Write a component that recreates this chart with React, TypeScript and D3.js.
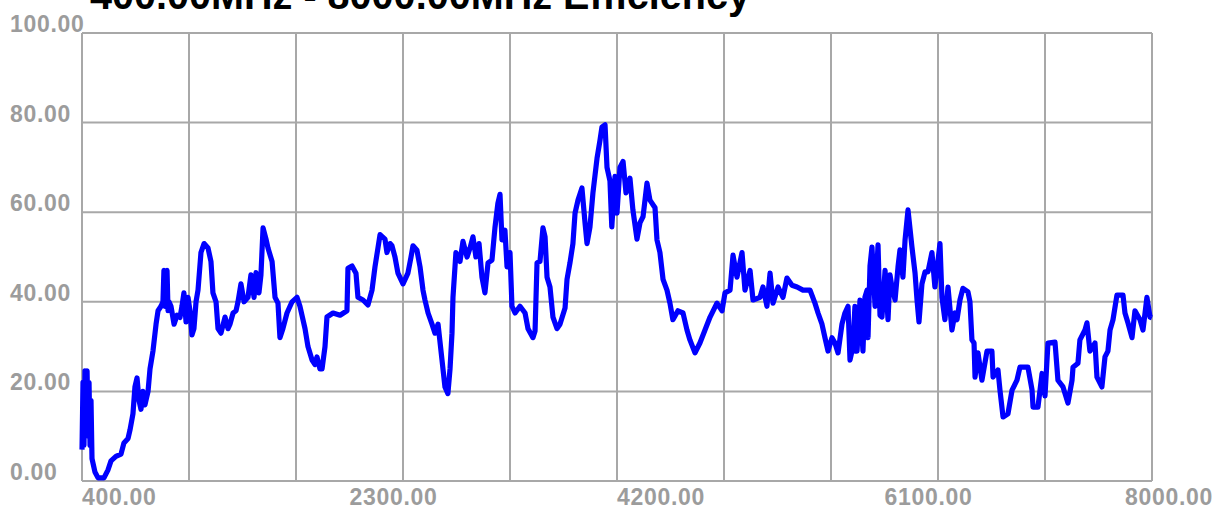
import React from "react";
import * as d3 from "d3";

const TITLE = "400.00MHz - 8000.00MHz Efficiency";

const freqs: number[] = [
  400, 407, 414, 421, 428, 436, 443, 450, 457, 464, 471, 492, 514, 556, 585, 606, 641, 677, 698, 727,
  741, 762, 776, 791, 805, 819, 833, 847, 869, 883, 904, 926, 940, 961, 975, 982, 989, 997, 1004, 1011, 1018, 1032,
  1054, 1075, 1096, 1110, 1124, 1139, 1153, 1167, 1181, 1195, 1210, 1224, 1245, 1267, 1295, 1316, 1330, 1352, 1366, 1387,
  1416, 1437, 1451, 1473, 1494, 1508, 1529, 1551, 1579, 1600, 1622, 1636, 1657, 1671, 1686, 1707, 1721, 1750, 1771, 1792,
  1806, 1827, 1856, 1892, 1927, 1948, 1984, 2005, 2034, 2055, 2069, 2090, 2105, 2126, 2140, 2183, 2233, 2282, 2289, 2318,
  2346, 2360, 2396, 2431, 2460, 2481, 2502, 2517, 2552, 2566, 2588, 2602, 2623, 2644, 2680, 2715, 2737, 2751, 2779, 2801,
  2822, 2836, 2858, 2886, 2907, 2929, 2957, 2978, 2999, 3014, 3028, 3035, 3056, 3085, 3106, 3135, 3156, 3177, 3198, 3220,
  3241, 3262, 3284, 3312, 3333, 3354, 3369, 3383, 3404, 3419, 3440, 3454, 3476, 3511, 3547, 3568, 3603, 3618, 3632, 3653,
  3674, 3689, 3703, 3724, 3745, 3774, 3795, 3831, 3845, 3866, 3887, 3902, 3923, 3951, 3973, 3987, 4008, 4029, 4058, 4079,
  4093, 4115, 4129, 4150, 4163, 4186, 4200, 4221, 4243, 4264, 4292, 4313, 4342, 4363, 4385, 4413, 4434, 4470, 4484, 4505,
  4527, 4555, 4576, 4597, 4633, 4669, 4697, 4718, 4754, 4789, 4825, 4861, 4910, 4946, 4967, 5003, 5024, 5052, 5088, 5109,
  5145, 5166, 5216, 5237, 5265, 5287, 5308, 5344, 5379, 5407, 5443, 5479, 5521, 5571, 5606, 5628, 5656, 5677, 5699, 5727,
  5748, 5770, 5798, 5819, 5841, 5855, 5876, 5890, 5897, 5905, 5926, 5947, 5961, 5976, 5983, 5997, 6011, 6033, 6054, 6068, 6082, 6104, 6125, 6139, 6153, 6175,
  6196, 6210, 6231, 6246, 6267, 6295, 6317, 6331, 6345, 6366, 6388, 6409, 6437, 6458, 6494, 6508, 6529, 6551, 6579, 6601,
  6615, 6636, 6657, 6693, 6707, 6721, 6736, 6743, 6764, 6792, 6828, 6863, 6871, 6906, 6920, 6942, 6977, 7006, 7041, 7062,
  7119, 7148, 7155, 7190, 7219, 7240, 7261, 7311, 7332, 7368, 7403, 7432, 7439, 7474, 7488, 7524, 7538, 7559, 7595, 7609,
  7644, 7666, 7687, 7702, 7723, 7751, 7794, 7808, 7829, 7858, 7879, 7915, 7936, 7964, 7986, 8000,
];

const efficiency: number[] = [
  7, 22, 8, 24.6, 10, 24.6, 12, 22, 8, 18, 5, 2, 0.7, 0.7, 2.5, 4.5, 5.5, 6, 8.5, 9.5,
  11.4, 15, 21, 23, 18, 16, 20, 17, 20, 25, 29, 35, 38, 39, 40, 47, 39, 40, 47, 38, 40, 39,
  35, 37, 36.5, 39, 42, 35.5, 41, 38, 32.6, 34, 40, 42.6, 51, 53, 52, 49, 42, 40, 34, 33,
  36.6, 34, 35, 37.5, 38, 40, 44, 40, 41, 46, 41, 46.5, 42, 46, 56.5, 54, 52, 49, 41, 39.7,
  32, 34, 37.5, 40, 41, 39, 34, 30, 27, 26, 27.7, 25, 25, 30, 36.6, 37.5, 37, 38, 47.5, 48,
  46.4, 41, 40.4, 39.3, 42.6, 47.8, 52, 55, 54, 51, 53, 52.5, 50, 46.4, 44, 46.4, 50, 52.5, 51.5, 47.8,
  42.6, 40.4, 37.5, 35, 33, 35, 27, 21, 19.5, 25, 33, 41, 51, 49, 53.5, 50, 52, 54.5, 50, 53,
  45.5, 42, 48.7, 49.3, 56.5, 62, 64, 53.8, 56, 47.8, 51, 39, 37.5, 39, 37.5, 34, 32, 33.5, 48.7, 49,
  56.5, 54.5, 45.5, 43.3, 36.6, 34, 35, 38.6, 45, 48.7, 53, 59.8, 62.7, 65.4, 57.6, 53, 56.7, 64.3, 72, 76,
  79, 79.5, 70, 67, 56.7, 68, 59.8, 70, 71.3, 64.3, 67.6, 60.5, 54, 57.6, 59, 66.5, 62.7, 61, 53.8, 51,
  45, 42.6, 39.7, 36, 38, 37.5, 33.7, 31.5, 28.6, 30.8, 33.7, 36.6, 39.7, 38, 42, 42.6, 50.4, 45.5, 51, 42.6,
  47, 40.4, 41, 43.3, 39, 46.4, 39.7, 43.3, 41, 45.3, 43.7, 43.3, 42.6, 42.6, 39.7, 37.5, 35, 32, 29, 32,
  30.8, 28.6, 35, 37.5, 39, 27, 30, 39, 29, 29, 40.4, 29, 41, 42.6, 32, 48, 52.2, 39, 52.7, 37, 36.6, 47, 36, 46, 43.3, 40.4,
  47.8, 51.6, 45.5, 53.8, 60.5, 52.2, 46.4, 40.4, 35.5, 44, 46.7, 46.7, 51, 43.3, 53, 41, 36, 43.3, 33.7, 37.5,
  36, 40.4, 43, 42.2, 40, 31.5, 30.8, 23.2, 28.6, 22.5, 29, 29, 23.2, 24.8, 20.3, 14.3, 15, 20.3, 22.5, 25.4,
  25.4, 20.3, 16.5, 16.5, 24, 19, 30.8, 31, 22.5, 21, 17.4, 22.5, 25.4, 26.3, 31.5, 33.7, 35.3, 29, 30.8, 23.2,
  21, 27.7, 29, 33.7, 36, 41.5, 41.5, 37.5, 35.3, 32, 38, 36, 33.7, 41, 36.6, 36.4,
];

const xGridValues: number[] = [400, 1160, 1920, 2680, 3440, 4200, 4960, 5720, 6480, 7240, 8000];
const xTickLabels: number[] = [400, 2300, 4200, 6100, 8000];
const yTickValues: number[] = [0, 20, 40, 60, 80, 100];

export default function App() {
  const W = 1221;
  const H = 509;
  const x = d3.scaleLinear().domain([400, 8000]).range([82, 1152]);
  const y = d3.scaleLinear().domain([0, 100]).range([481, 33]);

  const pts: [number, number][] = freqs.map((f, i) => [f, efficiency[i]]);
  const line = d3
    .line<[number, number]>()
    .x((d) => x(d[0]))
    .y((d) => y(d[1]));

  const gridColor = "#a8a8a8";
  const labelColor = "#9c9c9c";
  const font = "'Liberation Sans', Arial, sans-serif";

  return (
    <svg
      width={W}
      height={H}
      style={{ position: "absolute", left: 0, top: 0, background: "#fff" }}
    >
      <rect x={0} y={0} width={W} height={H} fill="#ffffff" />
      <text
        x={90}
        y={9}
        fontFamily={font}
        fontWeight="bold"
        fontSize={40}
        fill="#000"
        textLength={660}
        lengthAdjust="spacingAndGlyphs"
      >
        {TITLE}
      </text>
      {xGridValues.map((v) => (
        <line
          key={"gx" + v}
          x1={x(v)}
          x2={x(v)}
          y1={y(100)}
          y2={y(0)}
          stroke={gridColor}
          strokeWidth={2}
        />
      ))}
      {yTickValues.map((v) => (
        <line
          key={"gy" + v}
          x1={x(400)}
          x2={x(8000)}
          y1={y(v)}
          y2={y(v)}
          stroke={gridColor}
          strokeWidth={2}
        />
      ))}
      {yTickValues.map((v) => (
        <text
          key={"ly" + v}
          x={10}
          y={y(v) - 1}
          fontFamily={font}
          fontWeight="bold"
          fontSize={23}
          letterSpacing={0.7}
          fill={labelColor}
        >
          {v.toFixed(2)}
        </text>
      ))}
      {xTickLabels.map((v, i) => {
        const last = i === xTickLabels.length - 1;
        return (
          <text
            key={"lx" + v}
            x={last ? 1213 : x(v)}
            y={505}
            textAnchor={last ? "end" : "start"}
            fontFamily={font}
            fontWeight="bold"
            fontSize={23}
            letterSpacing={0.7}
            fill={labelColor}
          >
            {v.toFixed(2)}
          </text>
        );
      })}
      <path
        d={line(pts) || ""}
        fill="none"
        stroke="#0000ff"
        strokeWidth={5.2}
        strokeLinejoin="round"
        strokeLinecap="butt"
      />
    </svg>
  );
}
